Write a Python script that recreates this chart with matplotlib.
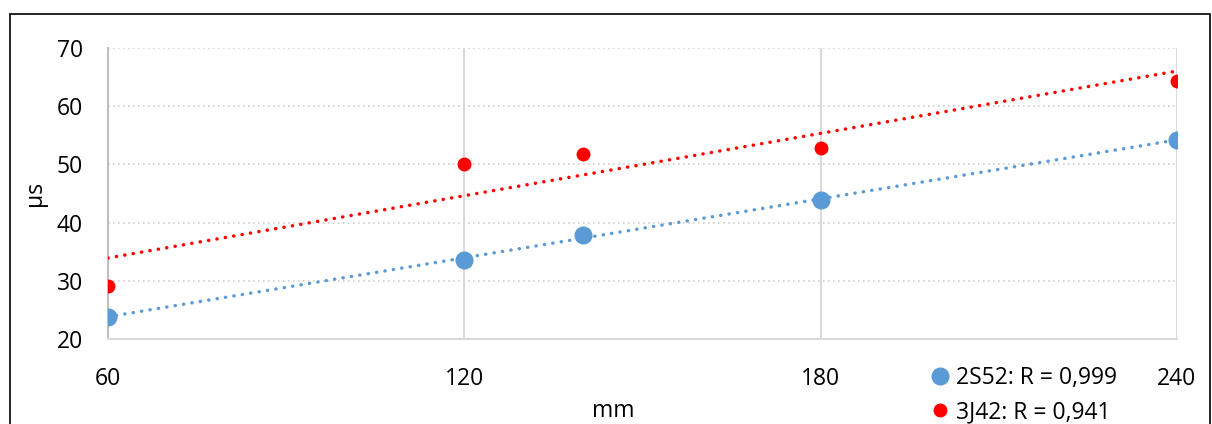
import numpy as np
import matplotlib.pyplot as plt
from matplotlib.patches import Rectangle
from matplotlib.lines import Line2D

plt.rcParams['font.family'] = ['Open Sans', 'DejaVu Sans']

# data
mm = [60, 120, 140, 180, 240]
s2s52 = [23.8, 33.6, 37.9, 43.9, 54.2]
s3j42 = [29.1, 50.1, 51.8, 52.8, 64.3]
labels = ['2S52: R = 0,999', '3J42: R = 0,941']

blue = '#5B9BD5'
red = '#FF0000'
fs = 16.5

fig = plt.figure(figsize=(12.12, 4.24), dpi=100)
ax = fig.add_axes([0.0891, 0.2005, 0.882, 0.6863])

# outer frame
fig.patches.append(Rectangle((10 / 1212, -0.1), 1200 / 1212, 1.1 - 14 / 424,
                             transform=fig.transFigure, fill=False,
                             edgecolor='black', linewidth=1.2, clip_on=False))

# linear trend lines
xs = np.array([60, 240])
for y, c in [(s2s52, blue), (s3j42, red)]:
    k, b = np.polyfit(mm, y, 1)
    ax.plot(xs, k * xs + b, linestyle=(0, (0.05, 2.4)), color=c,
            linewidth=2.5, dash_capstyle='round', zorder=3)

ax.plot(mm, s2s52, 'o', color=blue, markersize=12, zorder=4)
ax.plot(mm, s3j42, 'o', color=red, markersize=9, zorder=4)

ax.set_xlim(60, 240)
ax.set_ylim(20, 70)
ax.set_xticks([60, 120, 180, 240])
ax.set_yticks([20, 30, 40, 50, 60, 70])
ax.tick_params(axis='x', length=0, pad=20, labelsize=fs)
ax.tick_params(axis='y', length=0, pad=18, labelsize=fs)

# gridlines
for v in [30, 40, 50, 60, 70]:
    ax.axhline(v, color='#D0D0D0', linestyle=(0, (1, 2)), linewidth=1.2, zorder=1)
for v in [120, 180, 240]:
    ax.axvline(v, color='#D9D9D9', linewidth=1.5, zorder=1)

for s in ['top', 'right']:
    ax.spines[s].set_visible(False)
ax.spines['left'].set_color('#BFBFBF')
ax.spines['bottom'].set_color('#D9D9D9')
ax.spines['left'].set_linewidth(1.5)
ax.spines['bottom'].set_linewidth(1.5)

ax.set_ylabel('µs', fontsize=fs)
ax.yaxis.set_label_coords(-0.057, 0.5)
ax.set_xlabel('mm', fontsize=fs)
ax.xaxis.set_label_coords(0.473, -0.205)

handles = [Line2D([], [], marker='o', linestyle='', color=blue, markersize=12),
           Line2D([], [], marker='o', linestyle='', color=red, markersize=9)]
fig.legend(handles, labels, loc='upper left', bbox_to_anchor=(929 / 1212, 1 - 366 / 424),
           frameon=False, fontsize=fs, handletextpad=0.2, labelspacing=0.45,
           handlelength=1.0, borderpad=0, borderaxespad=0)

fig.savefig('out.png', dpi=100)
